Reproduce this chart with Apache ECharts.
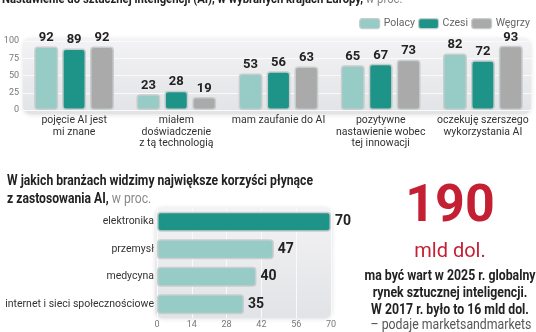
<!DOCTYPE html>
<html><head><meta charset="utf-8">
<script src="https://cdn.jsdelivr.net/npm/echarts@6/dist/echarts.min.js"></script>
<style>html,body{margin:0;padding:0;background:#fff;overflow:hidden}#c{width:536px;height:332px}</style>
</head><body><div id="c"></div>
<script>
// Attitudes towards AI, per country (percent)
const attitudes = ['pojęcie AI jest\nmi znane', 'miałem\ndoświadczenie\nz tą technologią', 'mam zaufanie do AI', 'pozytywne\nnastawienie wobec\ntej innowacji', 'oczekuję szerszego\nwykorzystania AI'];
const countries = ['Polacy', 'Czesi', 'Węgrzy'];
const poles = [92, 23, 53, 65, 82];
const czechs = [89, 28, 56, 67, 72];
const hungarians = [92, 19, 63, 73, 93];
const attitudeTicks = [0, 25, 50, 75, 100];

// Sectors expected to benefit most from AI (percent)
const sectors = ['elektronika', 'przemysł', 'medycyna', 'internet i sieci społecznościowe'];
const sectorValues = [70, 47, 40, 35];
const sectorTicks = [0, 14, 28, 42, 56, 70];

const FONT = 'Roboto, "DejaVu Sans", sans-serif';
const LIGHT = '#96cbc6', DARK = '#1e9488', GREY = '#aaaaaa';
const INK = '#222', RED = '#c41f33';

const topGrid = { left: 23, top: 41, width: 511, height: 69 };
const botGrid = { left: 157, top: 208, width: 174, height: 110 };

// --- text helpers: condensed headline text is drawn by squeezing a regular face
const measureCtx = document.createElement('canvas').getContext('2d');
function textWidth(str, font) { measureCtx.font = font; return measureCtx.measureText(str).width; }

function text(x, y, str, font, fill, align, sx) {
  return { type: 'text', x: x, y: y, scaleX: sx || 1, silent: true,
    style: { text: str, font: font, fill: fill || INK, align: align || 'left', verticalAlign: 'middle' } };
}

// a line made of a bold lead and a lighter tail, squeezed by sx
function splitLine(x, y, lead, tail, size, sx) {
  const fb = 'bold ' + size + 'px ' + FONT, fn = size + 'px ' + FONT;
  const w = textWidth(lead, fb) * sx;
  return [text(x, y, lead, fb, INK, 'left', sx), text(x + w, y, tail, fn, '#888', 'left', sx)];
}

const panelFill = new echarts.graphic.LinearGradient(0, 0, 0, 1, [
  { offset: 0, color: '#f3f3f5' }, { offset: 1, color: '#e2e3e6' }
]);
function panel(g, padL, padT, padR, padB) {
  return {
    type: 'rect', z: -10, silent: true,
    shape: { x: g.left - padL, y: g.top - padT, width: g.width + padL + padR, height: g.height + padT + padB, r: 8 },
    style: { fill: panelFill, shadowBlur: 4, shadowColor: 'rgba(0,0,0,0.12)', shadowOffsetY: 1 }
  };
}

// headline squeezing factors
const topTitleLead = 'Nastawienie do sztucznej inteligencji (AI), w wybranych krajach Europy,';
const sTop = 361 / textWidth(topTitleLead, 'bold 13px ' + FONT);
const botTitle1 = 'W jakich branżach widzimy największe korzyści płynące';
const sBot = 306 / textWidth(botTitle1, 'bold 14px ' + FONT);
const note = ['ma być wart w 2025 r. globalny', 'rynek sztucznej inteligencji.', 'W 2017 r. było to 16 mld dol.'];
const noteSource = '– podaje marketsandmarkets';
const sNote = 171 / textWidth(note[0], 'bold 14px ' + FONT);

const barBorder = { borderColor: '#c8cdcd', borderWidth: 1.5, borderRadius: 3 };
const valueLabel = { show: true, color: INK, fontFamily: FONT, fontWeight: 'bold', fontSize: 13 };
const maxSector = Math.max.apply(null, sectorValues);

const graphics = [
  panel(topGrid, 0, 3, -3, 4),
  panel(botGrid, 2, 1, 1, 0)
]
  .concat(splitLine(2, -0.5, topTitleLead, ' w proc.', 13, sTop))
  .concat([text(7, 181, botTitle1, 'bold 14px ' + FONT, INK, 'left', sBot)])
  .concat(splitLine(7, 199, 'z zastosowania AI,', ' w proc.', 14, sBot))
  .concat([
    text(450, 208, '190', 'bold 52px ' + FONT, RED, 'center'),
    text(450, 252, 'mld dol.', '20px ' + FONT, RED, 'center'),
    text(450, 276, note[0], 'bold 14px ' + FONT, INK, 'center', sNote),
    text(450, 293, note[1], 'bold 14px ' + FONT, INK, 'center', sNote),
    text(450, 310, note[2], 'bold 14px ' + FONT, INK, 'center', sNote),
    text(451, 325, noteSource, '14px ' + FONT, '#555', 'center', sNote)
  ]);

const chart = echarts.init(document.getElementById('c'), null, { renderer: 'canvas' });
chart.setOption({
  animation: false,
  textStyle: { fontFamily: FONT },
  legend: {
    data: countries, right: 1, top: 13,
    itemWidth: 20, itemHeight: 10, itemGap: 3, icon: 'roundRect',
    itemStyle: { borderColor: '#c8cdcd', borderWidth: 1.2 },
    textStyle: { color: '#666', fontSize: 10.5, fontFamily: FONT, padding: [0, 0, 0, -1] }
  },
  grid: [
    Object.assign({ containLabel: false, outerBoundsMode: 'none' }, topGrid),
    Object.assign({ containLabel: false, outerBoundsMode: 'none' }, botGrid)
  ],
  xAxis: [
    {
      gridIndex: 0, type: 'category', data: attitudes,
      axisLine: { show: false }, axisTick: { show: false },
      axisLabel: { interval: 0, color: '#333', fontSize: 10.5, lineHeight: 11.5, margin: 5, fontFamily: FONT }
    },
    {
      gridIndex: 1, type: 'value', min: sectorTicks[0], max: sectorTicks[sectorTicks.length - 1],
      interval: sectorTicks[1] - sectorTicks[0],
      axisLine: { show: false }, axisTick: { show: false },
      axisLabel: { color: '#777', fontSize: 9, margin: 2, fontFamily: FONT },
      splitLine: { show: true, lineStyle: { color: '#fafafa', width: 1 } }
    }
  ],
  yAxis: [
    {
      gridIndex: 0, type: 'value', min: attitudeTicks[0], max: attitudeTicks[attitudeTicks.length - 1],
      interval: attitudeTicks[1] - attitudeTicks[0],
      axisLine: { show: false }, axisTick: { show: false },
      axisLabel: { color: '#777', fontSize: 9, margin: 4, fontFamily: FONT },
      splitLine: { show: true, lineStyle: { color: '#fafafa', width: 1 } }
    },
    {
      gridIndex: 1, type: 'category', data: sectors, inverse: true,
      axisLine: { show: false }, axisTick: { show: false },
      axisLabel: { color: '#333', fontSize: 10.5, margin: 3, fontFamily: FONT }
    }
  ],
  series: [
    { name: countries[0], type: 'bar', xAxisIndex: 0, yAxisIndex: 0, data: poles,
      barGap: '17%', barCategoryGap: '22%',
      itemStyle: Object.assign({ color: LIGHT }, barBorder),
      label: Object.assign({ position: 'top', distance: 2 }, valueLabel) },
    { name: countries[1], type: 'bar', xAxisIndex: 0, yAxisIndex: 0, data: czechs,
      barGap: '17%', barCategoryGap: '22%',
      itemStyle: Object.assign({ color: DARK }, barBorder),
      label: Object.assign({ position: 'top', distance: 2 }, valueLabel) },
    { name: countries[2], type: 'bar', xAxisIndex: 0, yAxisIndex: 0, data: hungarians,
      barGap: '17%', barCategoryGap: '22%',
      itemStyle: Object.assign({ color: GREY }, barBorder),
      label: Object.assign({ position: 'top', distance: 2 }, valueLabel) },
    { name: 'branże', type: 'bar', xAxisIndex: 1, yAxisIndex: 1,
      data: sectorValues.map(function (v) {
        return { value: v, itemStyle: { color: v === maxSector ? DARK : LIGHT } };
      }),
      barCategoryGap: '28%',
      itemStyle: barBorder,
      label: Object.assign({ position: 'right', distance: 4 }, valueLabel, { fontSize: 14 }) }
  ],
  graphic: graphics
});
</script>
</body></html>
